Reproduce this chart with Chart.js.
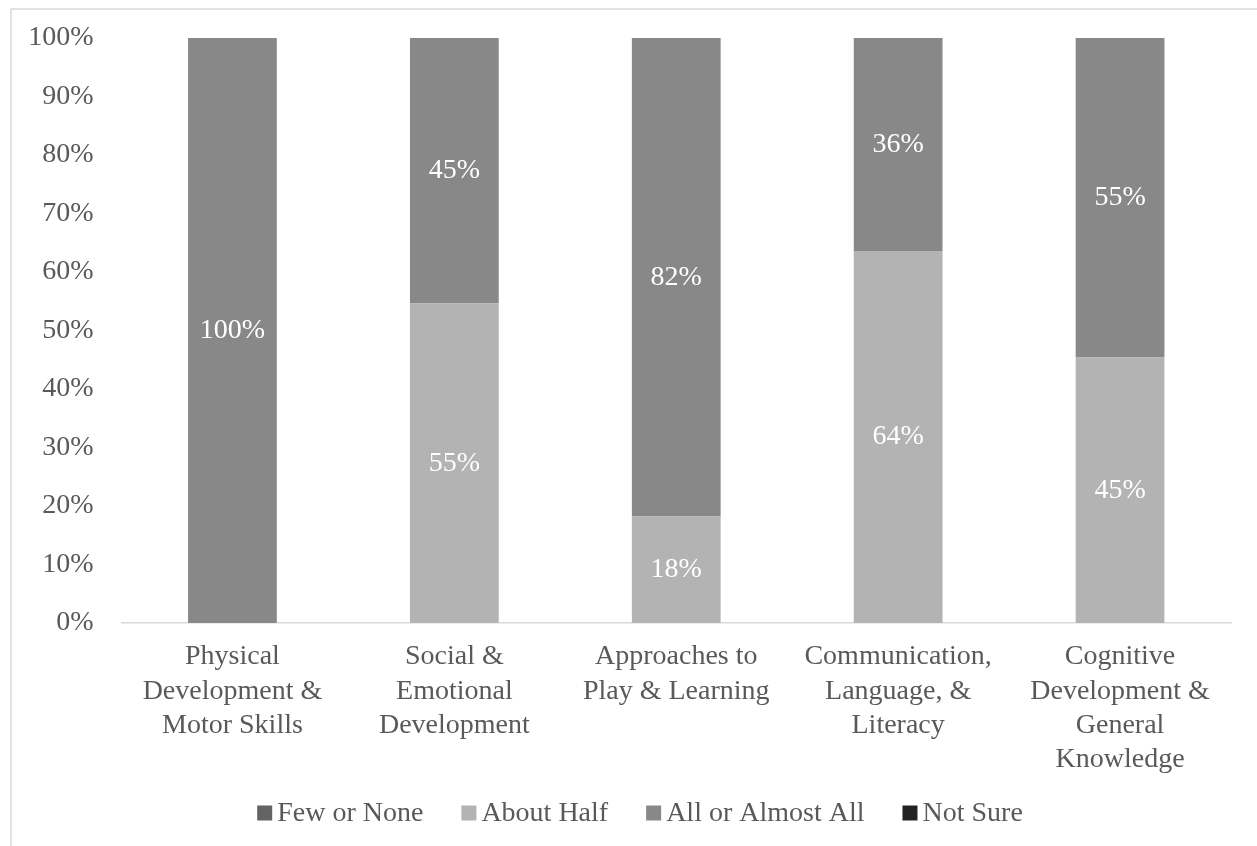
<!DOCTYPE html>
<html>
<head>
<meta charset="utf-8">
<script src="https://cdn.jsdelivr.net/npm/chart.js@4/dist/chart.umd.min.js"></script>
<style>
  html, body { margin: 0; padding: 0; background: #fff; }
  #wrap { width: 1257px; height: 846px; }
</style>
</head>
<body>
<div id="wrap"><canvas id="skillsChart" width="1257" height="846"></canvas></div>
<script>
const categories = [
  ['Physical', 'Development &', 'Motor Skills'],
  ['Social &', 'Emotional', 'Development'],
  ['Approaches to', 'Play & Learning'],
  ['Communication,', 'Language, &', 'Literacy'],
  ['Cognitive', 'Development &', 'General', 'Knowledge']
];

const seriesNames = ['Few or None', 'About Half', 'All or Almost All', 'Not Sure'];
const seriesColors = ['#636363', '#b3b3b3', '#888888', '#222222'];

const fewOrNone = [0, 0, 0, 0, 0];
const aboutHalf = [0, 54.6, 18.2, 63.6, 45.4];
const allOrAlmostAll = [100, 45.4, 81.8, 36.4, 54.6];
const notSure = [0, 0, 0, 0, 0];

const yTicks = [0, 10, 20, 30, 40, 50, 60, 70, 80, 90, 100];

const FONT = '"Liberation Serif", "Times New Roman", serif';
const TEXT = '#595959';

// white % labels in the middle of each segment
const segmentLabels = {
  id: 'segmentLabels',
  afterDatasetsDraw(chart) {
    const ctx = chart.ctx;
    ctx.save();
    ctx.font = '28px ' + FONT;
    ctx.fillStyle = '#ffffff';
    ctx.textAlign = 'center';
    ctx.textBaseline = 'middle';
    chart.data.datasets.forEach((ds, i) => {
      const meta = chart.getDatasetMeta(i);
      meta.data.forEach((bar, j) => {
        const v = ds.data[j];
        if (!v) return;
        ctx.fillText(Math.round(v) + '%', bar.x, (bar.y + bar.base) / 2);
      });
    });
    ctx.restore();
  }
};

// light frame (top and left edge visible) + legend row like the original
const frameAndLegend = {
  id: 'frameAndLegend',
  beforeDraw(chart) {
    const ctx = chart.ctx;
    ctx.save();
    ctx.strokeStyle = '#d9d9d9';
    ctx.lineWidth = 1.5;
    ctx.beginPath();
    ctx.moveTo(11, chart.height);
    ctx.lineTo(11, 9);
    ctx.lineTo(chart.width, 9);
    ctx.stroke();
    ctx.restore();
  },
  afterDraw(chart) {
    const ctx = chart.ctx;
    const box = 15, gapText = 5, gapItem = 38;
    ctx.save();
    ctx.font = '28px ' + FONT;
    ctx.textBaseline = 'middle';
    ctx.textAlign = 'left';
    const items = chart.data.datasets.map(ds => ({
      label: ds.label, color: ds.backgroundColor, w: ctx.measureText(ds.label).width
    }));
    let total = 0;
    items.forEach((it, i) => { total += box + gapText + it.w + (i ? gapItem : 0); });
    let x = 640 - total / 2;
    const y = 813;
    items.forEach(it => {
      ctx.fillStyle = it.color;
      ctx.fillRect(x, y - box / 2, box, box);
      x += box + gapText;
      ctx.fillStyle = TEXT;
      ctx.fillText(it.label, x, y + 1);
      x += it.w + gapItem;
    });
    ctx.restore();
  }
};

const seriesData = [fewOrNone, aboutHalf, allOrAlmostAll, notSure];

new Chart(document.getElementById('skillsChart').getContext('2d'), {
  type: 'bar',
  data: {
    labels: categories,
    datasets: seriesNames.map((name, i) => ({
      label: name,
      data: seriesData[i],
      backgroundColor: seriesColors[i],
      borderWidth: 0,
      categoryPercentage: 1,
      barPercentage: 0.4
    }))
  },
  options: {
    responsive: false,
    devicePixelRatio: 1,
    animation: false,
    layout: {
      padding: { top: 38, right: 26, bottom: 0, left: 0 }
    },
    plugins: {
      legend: { display: false },
      tooltip: { enabled: false }
    },
    scales: {
      x: {
        stacked: true,
        grid: { display: false, drawTicks: false },
        border: { display: true, color: '#d9d9d9', width: 1.5 },
        ticks: {
          color: TEXT,
          padding: 17,
          maxRotation: 0,
          autoSkip: false,
          font: { family: FONT, size: 28, lineHeight: 1.22 }
        },
        afterFit(scale) { scale.height = 846 - 623; }
      },
      y: {
        stacked: true,
        min: 0,
        max: 100,
        afterBuildTicks(scale) { scale.ticks = yTicks.map(v => ({ value: v })); },
        grid: { display: false, drawTicks: false },
        border: { display: false },
        ticks: {
          color: TEXT,
          padding: 28,
          font: { family: FONT, size: 28 },
          callback: v => v + '%'
        },
        afterFit(scale) {
          scale.width = 121.5;
          scale.paddingTop = 0;
          scale.paddingBottom = 0;
        }
      }
    }
  },
  plugins: [segmentLabels, frameAndLegend]
});
</script>
</body>
</html>
